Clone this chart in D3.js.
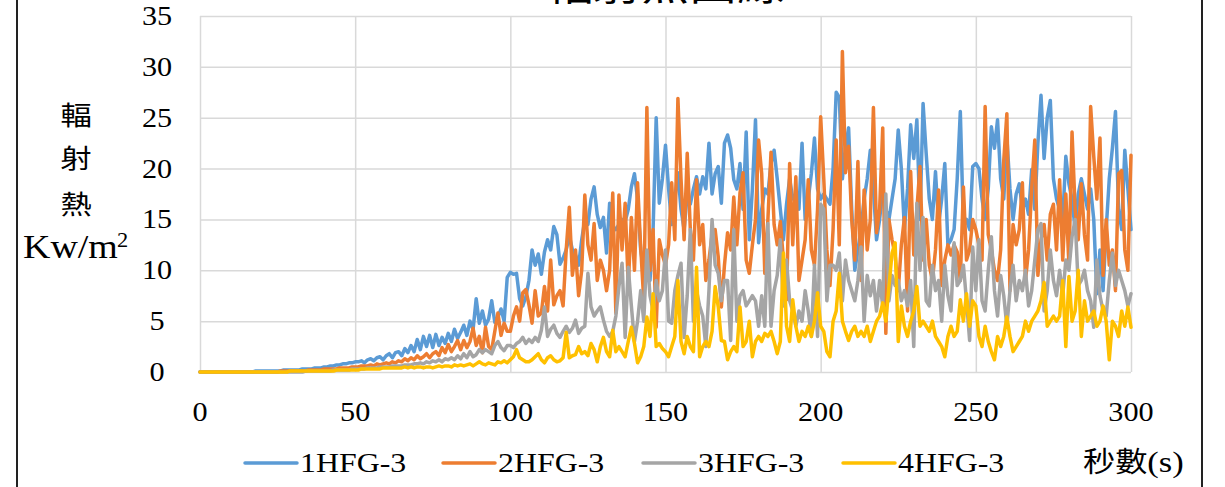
<!DOCTYPE html>
<html>
<head>
<meta charset="utf-8">
<script src="https://cdn.jsdelivr.net/npm/d3@7"></script>
<style>
  body { margin: 0; background: #fff; }
  svg { display: block; }
  .serif { font-family: "Liberation Serif", "Times New Roman", serif; fill: #000; }
  .cjk { font-family: "Noto Sans CJK TC", "Noto Sans CJK SC", sans-serif; fill: #000; }
</style>
</head>
<body>
<div id="chart"></div>
<script>
// readings per second, 0..300 s
const s1 = [
  0,0,0,0,0,0,0,0,0,0,
  0,0,0,0,0,0,0,0,0.1,0.1,
  0.1,0.1,0.1,0.1,0.1,0.1,0.1,0.2,0.2,0.2,
  0.2,0.2,0.2,0.3,0.3,0.3,0.3,0.4,0.4,0.4,
  0.5,0.5,0.6,0.6,0.7,0.7,0.8,0.8,0.9,0.9,
  1.0,1.0,1.1,0.9,1.2,1.3,1.1,1.4,1.5,1.2,
  1.6,1.8,1.4,1.9,2.0,1.6,2.3,1.9,2.6,2.0,
  3.2,2.2,3.5,2.5,3.6,2.4,3.7,2.6,3.4,2.8,
  3.8,3.0,4.2,3.3,3.9,4.6,3.6,5.0,4.2,7.2,
  4.8,6.0,4.6,5.2,7.0,4.9,5.4,6.2,5.0,9.3,
  9.8,9.6,9.7,7.2,6.5,7.4,9.0,12.0,10.5,11.6,
  9.6,11.8,13.0,12.0,14.3,13.5,10.6,11.2,12.0,13.4,
  12.0,11.5,10.5,13.0,15.0,14.5,17.0,18.2,15.5,14.2,
  15.2,11.7,16.6,14.3,14.0,14.5,15.0,14.8,16.0,18.2,
  19.5,17.0,12.0,10.0,9.5,9.0,14.0,25.0,16.6,19.0,
  22.3,18.0,14.5,17.0,19.6,16.0,14.0,17.5,16.5,18.0,
  19.2,17.5,19.2,18.0,22.5,17.5,19.5,20.2,16.6,22.5,
  23.3,22.0,18.9,18.0,20.5,16.0,23.6,13.0,18.0,24.8,
  12.7,16.0,18.0,17.5,20.5,21.8,19.0,16.0,13.0,16.5,
  19.0,17.0,17.5,16.0,22.5,15.0,17.0,19.5,23.0,18.0,
  17.0,17.5,17.0,16.5,20.0,27.5,27.0,19.0,22.0,24.0,
  16.0,10.0,12.0,14.0,17.0,19.0,21.8,18.0,13.0,15.0,
  18.0,16.0,15.0,17.0,19.0,23.8,20.0,14.0,18.0,24.3,
  21.0,24.8,15.0,26.4,21.5,17.0,15.0,19.7,14.5,17.0,
  20.5,12.5,13.0,14.0,19.0,25.6,14.3,15.0,14.0,20.2,
  20.5,20.0,17.0,15.0,18.0,24.1,22.0,24.8,19.0,17.0,
  23.1,18.0,15.0,17.5,18.5,16.0,17.0,15.5,19.9,16.0,
  22.5,27.2,21.0,25.0,26.7,19.0,17.0,16.0,15.0,21.2,
  18.5,17.0,14.0,17.5,19.0,17.5,16.0,18.0,15.0,7.7,
  12.0,8.0,14.0,19.0,22.0,25.6,16.0,14.0,21.8,18.0,14.0
];
const s2 = [
  0,0,0,0,0,0,0,0,0,0,
  0,0,0,0,0,0,0,0,0,0,
  0,0,0,0,0,0,0.1,0.1,0.1,0.1,
  0.1,0.1,0.1,0.1,0.1,0.2,0.2,0.2,0.2,0.2,
  0.3,0.3,0.3,0.3,0.3,0.4,0.4,0.4,0.4,0.5,
  0.5,0.5,0.6,0.6,0.6,0.7,0.6,0.8,0.7,0.8,
  0.9,0.8,1.0,0.9,1.1,1.0,1.3,1.1,1.4,1.2,
  1.6,1.3,1.5,1.8,1.4,1.8,2.0,1.6,2.4,1.9,
  2.7,2.0,2.5,3.1,2.2,3.1,2.4,3.0,4.3,2.6,
  3.5,1.9,4.4,2.5,2.2,4.0,5.8,3.6,4.8,4.0,
  4.0,5.5,6.4,5.0,7.8,8.1,6.6,4.8,8.0,5.5,
  5.8,8.4,6.0,11.0,6.6,7.5,8.0,6.5,12.0,16.2,
  9.5,12.0,7.5,10.0,17.4,12.5,11.0,14.6,9.0,11.0,
  10.0,8.0,10.0,17.6,5.8,17.4,12.0,16.6,8.5,15.2,
  10.0,18.6,12.3,7.0,26.0,10.0,14.0,4.4,13.0,11.5,
  10.5,12.5,18.6,13.0,26.9,19.0,13.0,21.5,14.0,11.0,
  18.9,12.5,14.5,9.0,11.0,13.5,14.0,11.3,6.4,10.5,
  13.7,12.0,17.2,12.5,17.6,19.6,11.0,9.7,12.5,15.0,
  22.8,19.5,9.7,15.0,21.6,14.5,12.5,14.8,11.0,7.1,
  20.5,12.5,19.2,9.0,11.0,13.0,18.9,12.0,10.5,16.0,
  25.1,19.0,12.0,8.5,14.0,22.8,12.5,31.5,19.6,22.2,
  15.0,11.0,20.7,9.0,17.9,12.0,15.0,26.0,13.7,16.0,
  24.0,3.8,15.0,13.0,11.5,8.0,12.5,15.2,6.0,19.7,
  11.5,16.0,20.2,11.0,15.0,10.5,9.0,12.0,17.9,8.5,
  11.0,12.5,11.5,12.5,11.8,9.0,18.2,11.0,12.0,15.0,
  14.0,12.5,11.0,26.1,13.5,12.0,10.0,9.0,12.0,20.8,
  25.4,8.0,14.5,12.5,14.0,18.6,9.0,12.0,18.0,22.8,
  9.5,13.0,14.5,11.0,15.5,16.5,12.0,18.9,11.0,17.5,
  10.5,23.6,16.0,13.0,18.5,13.5,11.0,26.1,21.2,17.0,
  23.0,9.5,15.0,10.5,12.0,8.0,19.5,19.8,12.0,10.0,21.3
];
const s3 = [
  0,0,0,0,0,0,0,0,0,0,
  0,0,0,0,0,0,0,0,0,0,
  0,0,0,0,0,0,0,0,0,0,
  0,0,0,0,0.1,0.1,0.1,0.1,0.1,0.1,
  0.1,0.1,0.1,0.2,0.2,0.2,0.2,0.2,0.2,0.3,
  0.3,0.3,0.3,0.3,0.4,0.4,0.4,0.4,0.5,0.5,
  0.5,0.5,0.6,0.6,0.6,0.6,0.7,0.7,0.7,0.8,
  0.8,0.9,0.8,1.0,0.9,1.1,1.0,1.2,1.0,1.3,
  1.2,1.4,1.2,1.6,1.3,1.8,1.4,2.0,1.5,1.7,
  2.2,1.9,2.2,2.0,1.8,2.6,3.0,2.4,2.1,2.6,
  2.6,2.4,2.8,3.0,3.4,2.8,3.2,2.9,3.4,3.0,
  4.1,6.4,3.5,4.2,4.6,3.8,3.4,4.0,4.5,3.9,
  4.3,5.1,3.8,4.3,4.5,9.7,6.4,5.5,6.0,6.4,
  5.1,4.0,3.5,4.0,5.5,8.4,10.7,3.4,10.3,6.5,
  3.0,5.0,8.0,5.0,12.0,7.5,6.0,9.0,7.0,8.0,
  12.0,5.0,4.8,8.0,9.5,10.7,3.4,7.5,14.0,5.0,
  8.0,6.5,5.5,2.5,8.0,15.0,10.5,9.7,7.0,9.0,
  9.0,3.1,14.0,5.0,7.5,8.0,6.5,7.0,7.5,7.0,
  4.5,7.5,4.5,14.6,4.5,8.0,9.5,13.0,6.5,11.0,
  7.0,6.0,4.5,6.0,5.0,8.0,6.0,3.5,10.5,3.5,
  16.5,16.0,7.0,10.5,10.5,10.0,11.7,7.0,11.0,9.0,
  8.0,7.0,9.0,12.3,5.0,9.5,7.5,9.0,6.0,9.0,
  6.5,17.5,7.0,9.5,8.5,9.0,7.0,8.0,6.5,9.0,
  2.5,16.6,10.0,15.2,7.0,6.5,10.5,8.0,9.0,5.0,
  10.5,7.5,6.0,12.7,8.5,9.0,10.5,7.0,3.1,12.3,
  8.0,13.0,7.0,6.0,10.0,13.3,8.0,5.5,9.5,7.5,
  4.5,8.0,10.5,7.0,9.0,8.0,10.0,6.5,8.0,11.0,
  14.0,14.6,6.0,8.0,12.0,9.0,7.5,10.0,7.5,11.0,
  10.0,13.3,15.0,8.5,9.0,10.0,8.0,7.0,4.4,11.0,
  7.5,6.0,5.5,9.0,11.7,8.5,10.0,9.0,8.0,6.5,7.7
];
const s4 = [
  0,0,0,0,0,0,0,0,0,0,
  0,0,0,0,0,0,0,0,0,0,
  0,0,0,0,0,0,0,0,0,0.1,
  0.1,0.1,0.1,0.1,0.1,0.1,0.1,0.1,0.1,0.1,
  0.1,0.1,0.1,0.1,0.2,0.2,0.2,0.2,0.2,0.2,
  0.2,0.2,0.3,0.3,0.3,0.3,0.3,0.3,0.3,0.4,
  0.4,0.4,0.4,0.4,0.4,0.4,0.5,0.4,0.5,0.4,
  0.5,0.5,0.4,0.5,0.5,0.4,0.5,0.6,0.5,0.6,
  0.6,0.5,0.7,0.6,0.7,0.6,0.7,0.8,0.6,0.8,
  1.0,0.8,0.7,0.9,0.8,0.7,1.0,0.9,1.1,0.9,
  1.2,1.5,2.2,1.4,1.2,1.0,1.0,1.2,1.5,1.8,
  1.2,0.9,1.4,1.6,1.2,1.0,1.1,1.4,3.9,1.4,
  1.6,1.7,2.5,1.8,2.0,1.6,2.8,2.2,1.0,2.5,
  3.4,2.0,1.5,4.1,2.0,2.5,2.0,1.5,3.0,4.4,
  2.8,0.9,1.5,2.5,5.4,3.5,7.7,2.5,2.8,2.3,
  2.0,1.5,2.5,3.5,9.0,3.0,1.8,3.5,2.5,2.0,
  10.3,1.5,2.5,3.0,2.5,4.0,8.4,6.4,3.1,3.0,
  1.2,2.0,2.5,2.0,6.4,2.5,3.0,5.0,1.5,3.0,
  3.5,3.0,3.8,3.5,4.0,3.0,1.8,3.0,11.7,4.5,
  3.0,7.1,4.5,3.0,4.0,3.5,4.5,3.5,5.0,7.8,
  4.5,4.0,2.0,1.5,5.0,6.0,9.7,5.0,4.0,3.1,
  4.0,4.5,3.5,4.0,3.5,4.5,3.0,4.0,5.0,5.5,
  6.8,5.0,8.4,11.7,12.7,3.0,6.5,4.5,3.5,5.0,
  6.0,8.4,4.5,5.0,4.5,4.0,5.0,3.5,3.0,2.5,
  1.5,3.5,4.5,3.5,4.0,7.1,5.0,7.7,4.5,7.0,
  6.5,3.5,2.5,4.5,3.0,2.0,1.2,3.5,2.5,3.5,
  5.4,3.5,2.0,2.5,3.0,3.5,5.0,4.0,5.0,5.5,
  6.0,7.0,8.8,4.5,5.0,5.5,5.0,5.5,9.0,2.5,
  9.4,5.0,6.0,10.0,3.5,7.0,5.0,5.5,6.0,4.5,
  5.0,6.5,5.0,1.2,5.0,4.5,3.5,6.0,4.5,6.4,4.4
];
const seriesNames = ['1HFG-3', '2HFG-3', '3HFG-3', '4HFG-3'];
const seriesColors = ['#5b9bd5', '#ed7d31', '#a5a5a5', '#ffc000'];
const xTicks = [0, 50, 100, 150, 200, 250, 300];
const yTicks = [0, 5, 10, 15, 20, 25, 30, 35];
const title = '輻射熱曲線';
const yLabelChars = ['輻', '射', '熱'];

const W = 1225, H = 487;
const plot = {left: 200, right: 1131, top: 16, bottom: 372};

const svg = d3.select('#chart').append('svg')
  .attr('width', W).attr('height', H);

const x = d3.scaleLinear().domain([0, 300]).range([plot.left, plot.right]);
const y = d3.scaleLinear().domain([0, 35]).range([plot.bottom, plot.top]);

// text helper: the reference glyphs are a bit wider than tall
function label(g, cls, txt, px, py, size, anchor, sx) {
  return g.append('text').attr('class', cls)
    .attr('transform', `translate(${px},${py}) scale(${sx || 1.12},1)`)
    .attr('font-size', size)
    .attr('text-anchor', anchor || 'start')
    .text(txt);
}

// outer frame sides
svg.append('line').attr('x1', 17).attr('x2', 17).attr('y1', 0).attr('y2', H)
  .attr('stroke', '#222').attr('stroke-width', 2);
svg.append('line').attr('x1', 1202).attr('x2', 1202).attr('y1', 0).attr('y2', H)
  .attr('stroke', '#222').attr('stroke-width', 2);

// title, only its lower edge shows as in the reference
label(svg, 'cjk', title, 665, 0, 40, 'middle', 1.2);

// grid
const grid = svg.append('g');
const yAxis = d3.axisLeft(y).tickValues(yTicks).tickSize(-(plot.right - plot.left)).tickFormat('');
grid.append('g').attr('transform', `translate(${plot.left},0)`).call(yAxis);
const xAxis = d3.axisBottom(x).tickValues(xTicks).tickSize(-(plot.bottom - plot.top)).tickFormat('');
grid.append('g').attr('transform', `translate(0,${plot.bottom})`).call(xAxis);
grid.selectAll('.domain').remove();
grid.selectAll('.tick line').attr('stroke', '#d9d9d9').attr('stroke-width', 1.5);

// tick labels
const tl = svg.append('g');
yTicks.forEach(v => label(tl, 'serif', v, 157, y(v) + 9, 27, 'middle'));
xTicks.forEach(v => label(tl, 'serif', v, x(v), 421, 27, 'middle'));

// y axis title, stacked
const yl = svg.append('g');
const charY = [125, 168, 214];
yLabelChars.forEach((c, i) => label(yl, 'cjk', c, 76, charY[i], 26, 'middle', 1.2));
label(yl, 'serif', 'Kw/m', 23, 258, 33, 'start', 1.15);
label(yl, 'serif', '2', 117, 247, 20, 'start', 1.12);

// x axis title: CJK part + serif unit
const xt = svg.append('text')
  .attr('transform', 'translate(1083,472) scale(1.15,1)')
  .attr('font-size', 28);
xt.append('tspan').attr('class', 'cjk').text('秒數');
xt.append('tspan').attr('class', 'serif').attr('font-size', 30).text('(s)');

// series
const line = d3.line()
  .x((d, i) => x(i))
  .y(d => y(d));
const lines = svg.append('g').attr('fill', 'none')
  .attr('stroke-width', 3.5).attr('stroke-linejoin', 'round').attr('stroke-linecap', 'round');
[s1, s2, s3, s4].forEach((s, k) => {
  lines.append('path').attr('d', line(s)).attr('stroke', seriesColors[k]);
});

// legend
const lg = svg.append('g');
const legX = [245, 443, 643, 843];
seriesNames.forEach((n, k) => {
  lg.append('line').attr('x1', legX[k]).attr('x2', legX[k] + 52)
    .attr('y1', 463).attr('y2', 463)
    .attr('stroke', seriesColors[k]).attr('stroke-width', 3.5).attr('stroke-linecap', 'round');
  label(lg, 'serif', n, legX[k] + 55, 472, 27, 'start', 1.18);
});
</script>
</body>
</html>
